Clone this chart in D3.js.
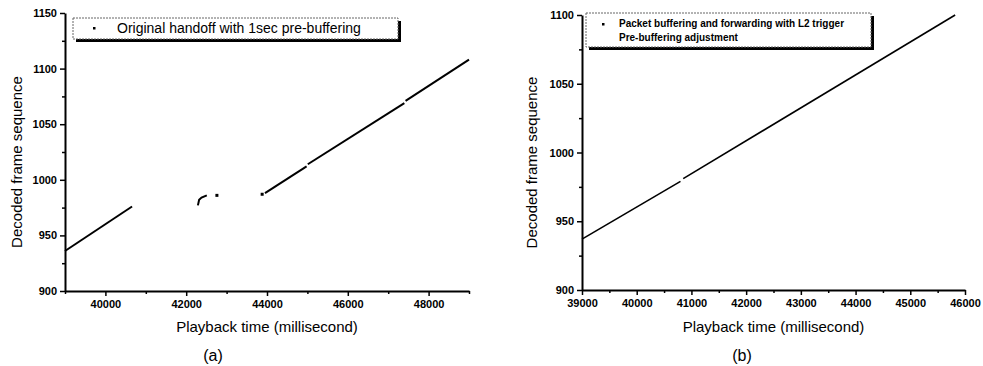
<!DOCTYPE html>
<html>
<head>
<meta charset="utf-8">
<script src="https://cdn.jsdelivr.net/npm/d3@7"></script>
<style>
  body { margin: 0; background: #fff; }
  svg { display: block; }
</style>
</head>
<body>
<svg id="chart"></svg>
<script>
// panel (a): original handoff, frame sequence vs playback time (ms)
const linesA = [
  [[39000, 936], [40660, 976]],
  [[42290, 977], [42320, 982], [42380, 984], [42510, 986]],
  [[43950, 988], [44980, 1012]],
  [[45010, 1014], [47400, 1069]],
  [[47430, 1071], [49000, 1108]]
];
const dotsA = [[42760, 986], [43880, 987]];
const xTicksA = [40000, 42000, 44000, 46000, 48000];
const xMinorA = [39000, 41000, 43000, 45000, 47000, 49000];
const yTicksA = [900, 950, 1000, 1050, 1100, 1150];
const yMinorA = [925, 975, 1025, 1075, 1125];
const legendA = ["Original handoff with 1sec pre-buffering"];

// panel (b): packet buffering and forwarding with L2 trigger
const linesB = [
  [[39000, 937], [40800, 979]],
  [[40850, 981], [45820, 1100]]
];
const xTicksB = [39000, 40000, 41000, 42000, 43000, 44000, 45000, 46000];
const xMinorB = [39500, 40500, 41500, 42500, 43500, 44500, 45500];
const yTicksB = [900, 950, 1000, 1050, 1100];
const yMinorB = [925, 975, 1025, 1075];
const legendB = ["Packet buffering and forwarding with L2 trigger", "Pre-buffering adjustment"];

function main() {
  const W = 983, H = 366;
  const font = "'Liberation Sans', Arial, sans-serif";
  const svg = d3.select("#chart").attr("width", W).attr("height", H);

  const panels = [
    {left: 65, right: 469, top: 13, bottom: 291, xd: [39000, 49000], yd: [900, 1150],
     lines: linesA, dots: dotsA, xt: xTicksA, xm: xMinorA, yt: yTicksA, ym: yMinorA,
     legend: legendA, lbox: [73, 18, 325, 21], lsize: 14, lbold: false, ldot: [94, 28], ltx: 117,
     lineW: 2, tag: "(a)", ytitleX: 17},
    {left: 582, right: 965, top: 15, bottom: 290, xd: [39000, 46000], yd: [900, 1100],
     lines: linesB, dots: [], xt: xTicksB, xm: xMinorB, yt: yTicksB, ym: yMinorB,
     legend: legendB, lbox: [586, 13, 285, 34], lsize: 10, lbold: true, ldot: [603, 24], ltx: 619,
     lineW: 1.6, tag: "(b)", ytitleX: 532}
  ];

  panels.forEach(p => {
    const x = d3.scaleLinear().domain(p.xd).range([p.left, p.right]);
    const y = d3.scaleLinear().domain(p.yd).range([p.bottom, p.top]);

    // minor ticks first
    svg.append("g")
      .attr("transform", `translate(0,${p.bottom})`)
      .call(d3.axisBottom(x).tickValues(p.xm).tickSize(3).tickFormat(""))
      .call(g => g.select(".domain").remove())
      .selectAll("line").attr("stroke-width", 1.5);
    svg.append("g")
      .attr("transform", `translate(${p.left},0)`)
      .call(d3.axisLeft(y).tickValues(p.ym).tickSize(3).tickFormat(""))
      .call(g => g.select(".domain").remove())
      .selectAll("line").attr("stroke-width", 1.5);

    const xAxis = svg.append("g")
      .attr("transform", `translate(0,${p.bottom})`)
      .call(d3.axisBottom(x).tickValues(p.xt).tickSize(5).tickSizeOuter(0).tickPadding(4).tickFormat(d3.format("d")));
    const yAxis = svg.append("g")
      .attr("transform", `translate(${p.left},0)`)
      .call(d3.axisLeft(y).tickValues(p.yt).tickSize(5).tickSizeOuter(0).tickPadding(3).tickFormat(d3.format("d")));

    [xAxis, yAxis].forEach(a => {
      a.select(".domain").attr("stroke-width", 2);
      a.selectAll(".tick line").attr("stroke-width", 1.5);
      a.selectAll("text")
        .attr("font-family", font).attr("font-size", 11)
        .attr("font-weight", "bold").attr("fill", "#000");
    });

    // data
    const line = d3.line().x(d => x(d[0])).y(d => y(d[1]));
    svg.append("g").selectAll("path")
      .data(p.lines).enter()
      .append("path")
        .attr("d", line)
        .attr("fill", "none")
        .attr("stroke", "#000")
        .attr("stroke-width", p.lineW);
    svg.append("g").selectAll("rect")
      .data(p.dots).enter()
      .append("rect")
        .attr("x", d => x(d[0]) - 1.5)
        .attr("y", d => y(d[1]) - 1.5)
        .attr("width", 3).attr("height", 3)
        .attr("fill", "#000");

    // legend
    const [bx, by, bw, bh] = p.lbox;
    svg.append("rect").attr("x", bx + 3).attr("y", by + 3).attr("width", bw).attr("height", bh)
      .attr("fill", "#000");
    svg.append("rect").attr("x", bx).attr("y", by).attr("width", bw).attr("height", bh)
      .attr("fill", "#fff").attr("stroke", "#666").attr("stroke-width", 1)
      .attr("stroke-dasharray", "2,1");
    svg.append("rect").attr("x", p.ldot[0] - 1).attr("y", p.ldot[1] - 1)
      .attr("width", 2.5).attr("height", 2.5).attr("fill", "#000");
    svg.append("g").selectAll("text")
      .data(p.legend).enter()
      .append("text")
        .attr("x", p.ltx)
        .attr("y", (d, i) => by + (p.legend.length === 1 ? 15 : 14 + i * 14))
        .attr("font-family", font)
        .attr("font-size", p.lsize)
        .attr("font-weight", p.lbold ? "bold" : "normal")
        .text(d => d);

    // titles
    svg.append("text")
      .attr("x", (p.left + p.right) / 2).attr("y", 332)
      .attr("text-anchor", "middle")
      .attr("font-family", font).attr("font-size", 15)
      .text("Playback time (millisecond)");
    svg.append("text")
      .attr("transform", `translate(${p.ytitleX + 5},${(p.top + p.bottom) / 2 + 10}) rotate(-90)`)
      .attr("text-anchor", "middle")
      .attr("font-family", font).attr("font-size", 15)
      .text("Decoded frame sequence");
    svg.append("text")
      .attr("x", p.tag === "(a)" ? 213 : 742).attr("y", 361)
      .attr("text-anchor", "middle")
      .attr("font-family", font).attr("font-size", 16)
      .text(p.tag);
  });
}

window.addEventListener("load", main);
</script>
</body>
</html>
